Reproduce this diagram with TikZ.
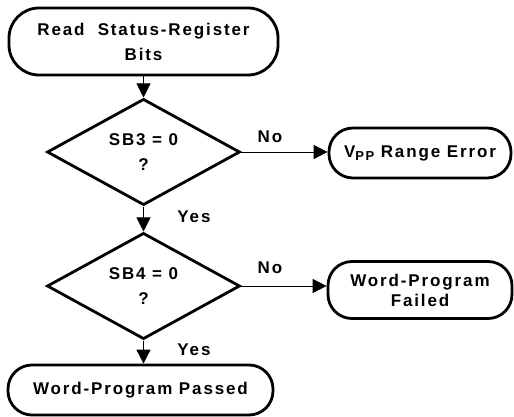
\documentclass[tikz,border=0pt]{standalone}
\usepackage{fontspec}
\setmainfont[LetterSpace=11]{Liberation Sans}
\usetikzlibrary{shapes.geometric,arrows.meta}
\tikzset{
  term/.style={draw,line width=2.8pt,rounded corners=24pt,align=center,inner sep=2pt},
  test/.style={draw,diamond,line width=2.8pt,align=center,inner sep=0pt},
  flow/.style={line width=0.8pt,-{Triangle[length=14pt,width=14pt]}},
  lbl/.style={inner sep=0pt}
}
\begin{document}
\begin{tikzpicture}[x=1pt,y=-1pt,font=\fontsize{17}{25}\selectfont\bfseries]
\useasboundingbox (0,0) rectangle (514,417);
\node[term,rounded corners=30pt,minimum width=269pt,minimum height=67pt] (read) at (143.5,41.5)
  {Read\ \ Status-Register\\Bits};
\node[test,minimum width=193pt,minimum height=104pt] (sb3) at (143.5,152)
  {SB3 = 0\\?};
\node[term,minimum width=182pt,minimum height=50pt] (vpp) at (420,153)
  {V\raisebox{-0.4ex}{\fontsize{13}{13}\selectfont PP} Range Error};
\node[term,minimum width=184pt,minimum height=57pt] (fail) at (420,290)
  {Word-Program\\[-5pt]Failed};
\node[test,minimum width=193pt,minimum height=106pt] (sb4) at (143.5,286)
  {SB4 = 0\\?};
\node[term,minimum width=265pt,minimum height=50pt] (pass) at (140.5,390)
  {Word-Program Passed};
%
\draw[flow] (read) -- (sb3);
\draw[flow] (sb3) -- (sb4);
\draw[flow] (sb4) -- (sb4.south |- pass.north);
\draw[flow] (sb3.east) -- (sb3.east -| vpp.west);
\draw[flow] (sb4.east) -- (sb4.east -| fail.west);
%
\node[lbl] (no1) at (270,137) {No};
\node[lbl] (yes1) at (194,217) {Yes};
\node[lbl] (no2) at (270,268) {No};
\node[lbl] (yes2) at (194,350) {Yes};
\end{tikzpicture}
\end{document}
